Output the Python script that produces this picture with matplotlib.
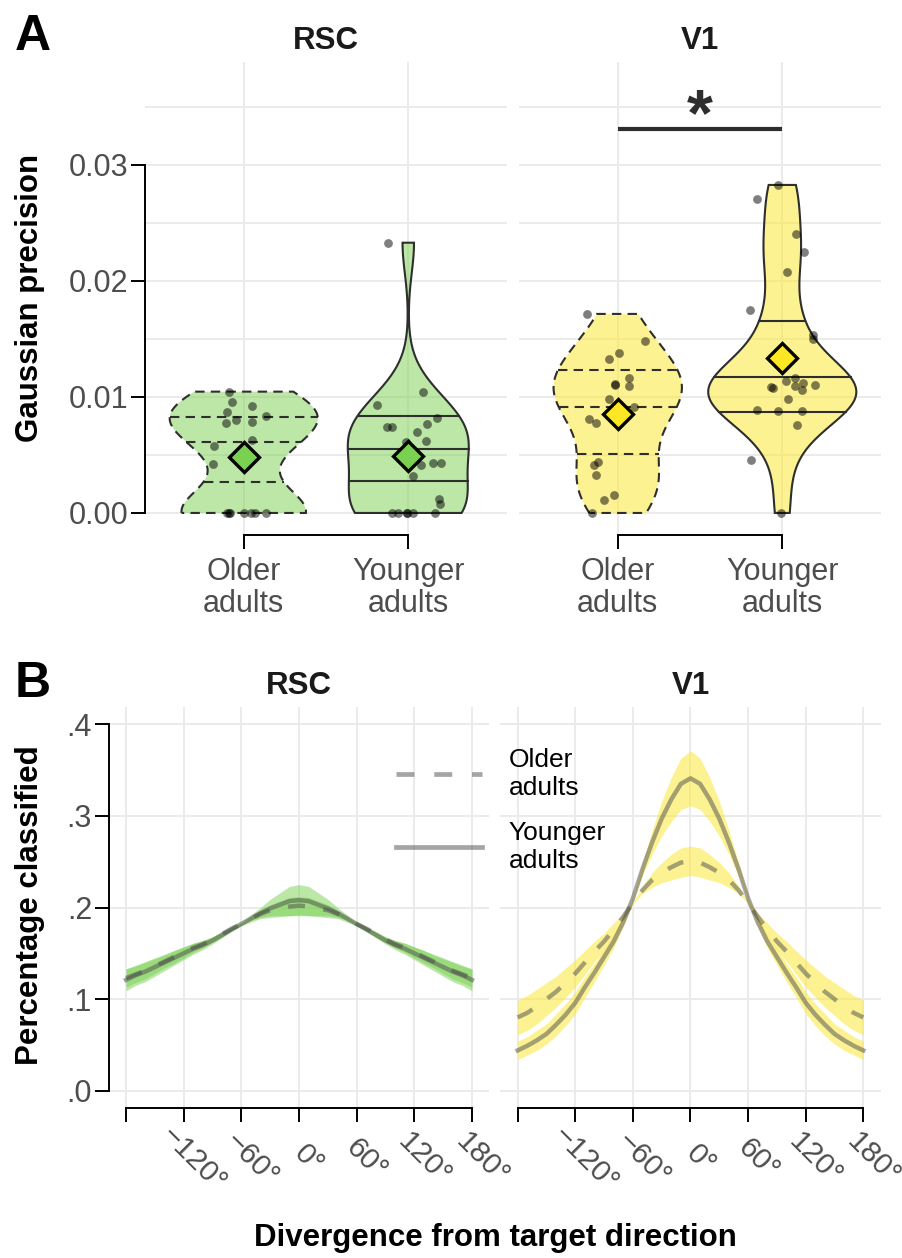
import numpy as np
import matplotlib
matplotlib.use("Agg")
import matplotlib.pyplot as plt
from matplotlib.lines import Line2D
from matplotlib.colors import to_rgba

plt.rcParams['font.family'] = ['Liberation Sans', 'DejaVu Sans']

# ---------------- Panel A data ----------------
regions = ["RSC", "V1"]
age_groups = ["Older\nadults", "Younger\nadults"]

rsc_older = [0.01046, 0.00954, 0.00920, 0.00873, 0.00839, 0.00805, 0.00773, 0.00782,
             0.00629, 0.00580, 0.00420, 0, 0, 0, 0, 0, 0, 0]
rsc_older_jitter = [-0.09, -0.069, 0.051, -0.10, 0.134, -0.049, -0.11, 0.051,
                    0.051, -0.183, -0.187, -0.10, -0.085, 0.0, 0.043, 0.071, 0.138, -0.09]
rsc_younger = [0.0233, 0.01046, 0.00928, 0.00822, 0.00741, 0.00741, 0.00701, 0.00765,
               0.00624, 0.00615, 0.00414, 0.00434, 0.00434, 0.00319, 0.00118, 0.00078,
               0, 0, 0, 0, 0, 0]
rsc_younger_jitter = [-0.126, 0.09, -0.19, 0.173, -0.132, -0.10, 0.051, 0.112,
                      0.106, -0.016, 0.077, 0.152, 0.197, 0.027, 0.185, 0.19,
                      -0.10, -0.065, -0.01, 0.027, 0.16, -0.01]
v1_older = [0.01716, 0.0148, 0.01379, 0.01325, 0.01167, 0.01115, 0.01092, 0.0110,
            0.0098, 0.00911, 0.00807, 0.00779, 0.0044, 0.00414, 0.0033, 0.00158, 0.00115, 0.0]
v1_older_jitter = [-0.185, 0.167, 0.01, -0.053, 0.069, -0.014, 0.067, -0.016,
                   -0.051, 0.10, -0.173, -0.13, -0.118, -0.145, -0.132, -0.022, -0.083, -0.157]
v1_younger = [0.02828, 0.0271, 0.02405, 0.0225, 0.0208, 0.01747, 0.01532, 0.0150,
              0.0114, 0.01161, 0.01089, 0.01078, 0.01092, 0.01118, 0.0106, 0.01103,
              0.0098, 0.00888, 0.00882, 0.00882, 0.00761, 0.00454, 0.0]
v1_younger_jitter = [-0.024, -0.154, 0.081, 0.134, 0.03, -0.195, 0.185, 0.189,
                     0.024, 0.079, -0.067, -0.055, 0.079, 0.126, 0.118, 0.20,
                     0.035, -0.152, -0.024, 0.122, 0.09, -0.191, -0.008]
rsc_means = [0.00486, 0.00494]
v1_means = [0.00851, 0.01339]
v1_sig_y = 0.0331
v1_sig_label = "*"

# ---------------- Panel B data ----------------
angles = [-180, -170, -160, -150, -140, -130, -120, -110, -100, -90, -80, -70, -60, -50, -40, -30, -20, -10, 0,
          10, 20, 30, 40, 50, 60, 70, 80, 90, 100, 110, 120, 130, 140, 150, 160, 170, 180]
rsc_young_mean = [0.121, 0.126, 0.130, 0.135, 0.140, 0.145, 0.150, 0.155, 0.159, 0.164, 0.170, 0.176, 0.182,
                  0.188, 0.194, 0.199, 0.203, 0.207, 0.208,
                  0.207, 0.203, 0.199, 0.194, 0.188, 0.182, 0.176, 0.170, 0.164, 0.159, 0.155, 0.150,
                  0.145, 0.140, 0.135, 0.130, 0.126, 0.121]
rsc_young_ci = [0.012, 0.011, 0.011, 0.010, 0.009, 0.008, 0.007, 0.006, 0.005, 0.004, 0.003, 0.002, 0.002,
                0.004, 0.006, 0.010, 0.013, 0.016, 0.017,
                0.016, 0.013, 0.010, 0.006, 0.004, 0.002, 0.002, 0.003, 0.004, 0.005, 0.006, 0.007,
                0.008, 0.009, 0.010, 0.011, 0.011, 0.012]
rsc_old_mean = [0.123, 0.127, 0.131, 0.136, 0.141, 0.146, 0.151, 0.156, 0.160, 0.165, 0.171, 0.177, 0.182,
                0.188, 0.193, 0.197, 0.199, 0.201, 0.202,
                0.201, 0.199, 0.197, 0.193, 0.188, 0.182, 0.177, 0.171, 0.165, 0.160, 0.156, 0.151,
                0.146, 0.141, 0.136, 0.131, 0.127, 0.123]
rsc_old_ci = [0.010, 0.009, 0.009, 0.008, 0.007, 0.007, 0.006, 0.005, 0.004, 0.003, 0.003, 0.002, 0.001,
              0.002, 0.004, 0.006, 0.008, 0.010, 0.010,
              0.010, 0.008, 0.006, 0.004, 0.002, 0.001, 0.002, 0.003, 0.003, 0.004, 0.005, 0.006,
              0.007, 0.007, 0.008, 0.009, 0.009, 0.010]
v1_young_mean = [0.044, 0.049, 0.055, 0.062, 0.072, 0.083, 0.096, 0.113, 0.129, 0.146, 0.163, 0.184, 0.210,
                 0.242, 0.271, 0.297, 0.318, 0.335, 0.341,
                 0.335, 0.318, 0.297, 0.271, 0.242, 0.210, 0.184, 0.163, 0.146, 0.129, 0.113, 0.096,
                 0.083, 0.072, 0.062, 0.055, 0.049, 0.044]
v1_young_ci = [0.010, 0.010, 0.011, 0.011, 0.012, 0.012, 0.012, 0.011, 0.010, 0.009, 0.007, 0.004, 0.002,
               0.007, 0.013, 0.019, 0.024, 0.028, 0.030,
               0.028, 0.024, 0.019, 0.013, 0.007, 0.002, 0.004, 0.007, 0.009, 0.010, 0.011, 0.012,
               0.012, 0.012, 0.011, 0.011, 0.010, 0.010]
v1_old_mean = [0.080, 0.085, 0.092, 0.100, 0.108, 0.118, 0.128, 0.140, 0.152, 0.163, 0.176, 0.190, 0.205,
               0.219, 0.230, 0.238, 0.244, 0.249, 0.251,
               0.249, 0.244, 0.238, 0.230, 0.219, 0.205, 0.190, 0.176, 0.163, 0.152, 0.140, 0.128,
               0.118, 0.108, 0.100, 0.092, 0.085, 0.080]
v1_old_ci = [0.019, 0.019, 0.019, 0.018, 0.017, 0.016, 0.015, 0.013, 0.011, 0.009, 0.007, 0.004, 0.001,
             0.004, 0.008, 0.011, 0.014, 0.016, 0.016,
             0.016, 0.014, 0.011, 0.008, 0.004, 0.001, 0.004, 0.007, 0.009, 0.011, 0.013, 0.015,
             0.016, 0.017, 0.018, 0.019, 0.019, 0.019]
angle_ticks = [-180, -120, -60, 0, 60, 120, 180]
angle_labels = ["", "\u2212120\u00b0", "\u221260\u00b0", "0\u00b0", "60\u00b0", "120\u00b0", "180\u00b0"]
legend_labels = ["Older\nadults", "Younger\nadults"]

# ---------------- styling ----------------
W, H, DPI = 903, 1258, 100
region_colors = {"RSC": "#7AD151", "V1": "#FDE725"}
grid_col = "#EBEBEB"
text_col = "#4D4D4D"
edge_col = "#2E2E2E"
curve_col = "#4D4D4D"
TICK_FS = 22
TITLE_FS = 22.5
dash_violin = (0, (4.5, 3))
dash_curve = (0, (3.8, 4.2))

fig = plt.figure(figsize=(W / DPI, H / DPI), dpi=DPI)


def rect(l, t, r, b):
    return [l / W, 1 - b / H, (r - l) / W, (b - t) / H]


def nrd0(x):
    x = np.asarray(x, float)
    sd = np.std(x, ddof=1)
    q75, q25 = np.percentile(x, [75, 25])
    lo = min(sd, (q75 - q25) / 1.34)
    if lo <= 0:
        lo = sd
    return 0.9 * lo * len(x) ** (-0.2)


def kde(vals, n=512):
    vals = np.asarray(vals, float)
    bw = nrd0(vals)
    y = np.linspace(vals.min(), vals.max(), n)
    d = np.exp(-0.5 * ((y[:, None] - vals[None, :]) / bw) ** 2).sum(1) / (len(vals) * bw * np.sqrt(2 * np.pi))
    return y, d


def style_axes(ax, show_left):
    for s in ["top", "right"]:
        ax.spines[s].set_visible(False)
    ax.spines["left"].set_visible(show_left)
    for s in ["left", "bottom"]:
        ax.spines[s].set_linewidth(1.4)
        ax.spines[s].set_color("black")
    ax.set_axisbelow(True)
    ax.tick_params(axis="both", which="major", direction="out", length=10, width=1.4,
                   color="black", labelcolor=text_col, labelsize=TICK_FS)
    ax.tick_params(axis="both", which="minor", length=0)
    if not show_left:
        ax.tick_params(axis="y", which="both", length=0, labelleft=False)


# ---------------- Panel A ----------------
axA = [fig.add_axes(rect(145, 62, 507, 535)), fig.add_axes(rect(519, 62, 881, 535))]
panelA = {"RSC": ([rsc_older, rsc_younger], [rsc_older_jitter, rsc_younger_jitter], rsc_means),
          "V1": ([v1_older, v1_younger], [v1_older_jitter, v1_younger_jitter], v1_means)}
positions = [1, 2]
for k, (ax, region) in enumerate(zip(axA, regions)):
    sets, jits, means = panelA[region]
    col = region_colors[region]
    dens = [kde(v) for v in sets]
    dmax = max(d.max() for _, d in dens)
    for i, ((yy, dd), vals, jit, mean) in enumerate(zip(dens, sets, jits, means)):
        pos = positions[i]
        ls = dash_violin if i == 0 else "-"
        hw = 0.45 * dd / dmax
        xs = np.concatenate([pos - hw, (pos + hw)[::-1]])
        ys = np.concatenate([yy, yy[::-1]])
        ax.fill(xs, ys, fc=to_rgba(col, 0.5), ec=edge_col, lw=1.5, ls=ls, zorder=2)
        ecdf = np.cumsum(dd) / np.sum(dd)
        for q in (0.25, 0.5, 0.75):
            yq = np.interp(q, ecdf, yy)
            w = np.interp(yq, yy, hw)
            ax.plot([pos - w, pos + w], [yq, yq], color=edge_col, lw=1.5, ls=ls, zorder=2.1)
        ax.scatter(pos + np.asarray(jit), vals, s=40, c="black", alpha=0.5, lw=0, zorder=3)
        ax.plot([pos], [mean], marker="D", ms=15.5, mfc=col, mec="black", mew=2.4, zorder=4)
    ax.set_xlim(0.4, 2.6)
    ax.set_ylim(-0.0019, 0.03888)
    ax.set_xticks(positions)
    ax.set_xticklabels(age_groups, linespacing=1.1)
    ax.set_yticks([0, 0.01, 0.02, 0.03])
    ax.set_yticklabels(["0.00", "0.01", "0.02", "0.03"])
    ax.set_yticks([0.005, 0.015, 0.025, 0.035], minor=True)
    ax.grid(True, which="both", color=grid_col, lw=1.4)
    style_axes(ax, k == 0)
    ax.spines["left"].set_bounds(0, 0.03)
    ax.spines["bottom"].set_bounds(1, 2)
    ax.tick_params(axis="x", pad=5.5)
    ax.tick_params(axis="y", pad=2)

# significance bar
axA[1].plot(positions, [v1_sig_y, v1_sig_y], color=edge_col, lw=3, solid_capstyle="butt", zorder=5)
axA[1].text(1.5, v1_sig_y - 0.0005, v1_sig_label, ha="center", va="baseline", fontsize=48,
            fontweight="bold", color=edge_col, zorder=5)

# ---------------- Panel B ----------------
axB = [fig.add_axes(rect(108.7, 706.7, 489.3, 1108.3)), fig.add_axes(rect(500.4, 706.7, 880.6, 1108.3))]
panelB = {"RSC": [(rsc_old_mean, rsc_old_ci, dash_curve), (rsc_young_mean, rsc_young_ci, "-")],
          "V1": [(v1_old_mean, v1_old_ci, dash_curve), (v1_young_mean, v1_young_ci, "-")]}
for k, (ax, region) in enumerate(zip(axB, regions)):
    col = region_colors[region]
    for mean, ci, ls in panelB[region]:
        m = np.asarray(mean)
        c = np.asarray(ci)
        ax.fill_between(angles, m - c, m + c, color=col, alpha=0.5, lw=0, zorder=2)
    for mean, ci, ls in panelB[region]:
        ax.plot(angles, mean, color=curve_col, alpha=0.5, lw=3.2, ls=ls, zorder=3)
    ax.set_xlim(-198, 198)
    ax.set_ylim(-0.0192, 0.4192)
    ax.set_xticks(angle_ticks)
    ax.set_xticklabels(angle_labels)
    ax.set_yticks([0, 0.1, 0.2, 0.3, 0.4])
    ax.set_yticklabels([".0", ".1", ".2", ".3", ".4"])
    ax.grid(True, which="major", color=grid_col, lw=1.4)
    style_axes(ax, k == 0)
    ax.spines["left"].set_bounds(0, 0.4)
    ax.spines["bottom"].set_bounds(-180, 180)
    ax.tick_params(axis="y", pad=2)
    ax.tick_params(axis="x", pad=34, labelsize=21.5)
    for lab in ax.get_xticklabels():
        lab.set_rotation(-45)
        lab.set_rotation_mode("anchor")
        lab.set_ha("center")
        lab.set_va("bottom")

handles = [Line2D([], [], color=curve_col, alpha=0.5, lw=3.4, ls=dash_curve),
           Line2D([], [], color=curve_col, alpha=0.5, lw=3.4, ls="-")]
fig.legend(handles, legend_labels, loc="upper left", bbox_to_anchor=(396 / W, 1 - 748 / H),
           frameon=False, fontsize=19, handlelength=3.26,
           handletextpad=1.0, labelspacing=0.8, borderpad=0, borderaxespad=0)

# ---------------- titles / labels ----------------
def ftext(x, y, s, **kw):
    fig.text(x / W, 1 - y / H, s, **kw)

ftext(15, 50, "A", fontsize=36, fontweight="bold", ha="left", va="baseline")
ftext(15, 697, "B", fontsize=36, fontweight="bold", ha="left", va="baseline")
ftext(326, 49, "RSC", fontsize=TITLE_FS, fontweight="bold", ha="center", va="baseline", color="#1A1A1A")
ftext(700, 49, "V1", fontsize=TITLE_FS, fontweight="bold", ha="center", va="baseline", color="#1A1A1A")
ftext(299, 694, "RSC", fontsize=TITLE_FS, fontweight="bold", ha="center", va="baseline", color="#1A1A1A")
ftext(690.5, 694, "V1", fontsize=TITLE_FS, fontweight="bold", ha="center", va="baseline", color="#1A1A1A")
ftext(30, 298, "Gaussian precision", fontsize=TITLE_FS, fontweight="bold", rotation=90,
      ha="center", va="center")
ftext(30, 905, "Percentage classified", fontsize=TITLE_FS, fontweight="bold", rotation=90,
      ha="center", va="center")
ftext(495, 1238, "Divergence from target direction", fontsize=TITLE_FS, fontweight="bold",
      ha="center", va="center")

fig.savefig("out.png", dpi=DPI)
